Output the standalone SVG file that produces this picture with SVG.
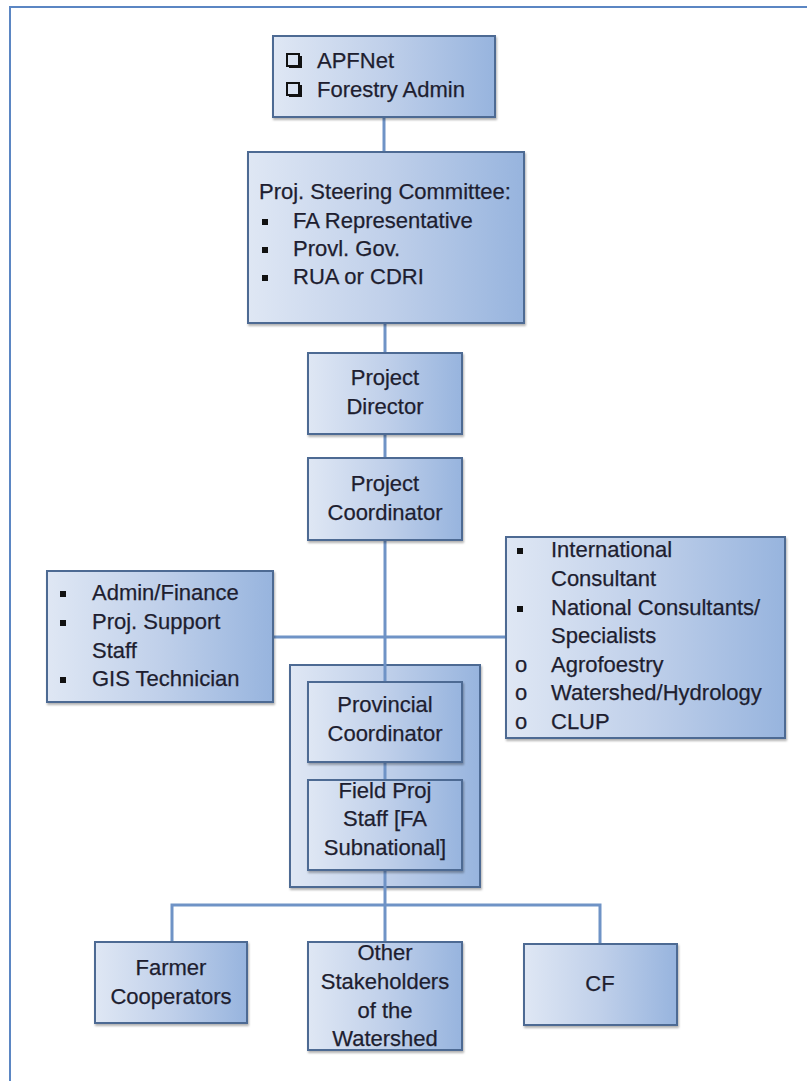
<svg xmlns="http://www.w3.org/2000/svg" width="807" height="1081" viewBox="0 0 807 1081">
<style>
.box{fill:url(#g);stroke:#4d6b93;stroke-width:2;filter:url(#sh)}
.t{font-family:"Liberation Sans",Arial,sans-serif;font-size:22px;fill:#1e1e30;stroke:#1e1e30;stroke-width:0.25}
.c{text-anchor:middle}
.ln{stroke:#6f93c6;stroke-width:3;fill:none}
.b{fill:#111}
.cb{fill:none;stroke:#111;stroke-width:2}
</style>
<defs>
<linearGradient id="g" x1="0" y1="0" x2="1" y2="0">
<stop offset="0" stop-color="#dfe7f4"/>
<stop offset="0.5" stop-color="#c0d0ea"/>
<stop offset="1" stop-color="#97b4de"/>
</linearGradient>
<filter id="sh" x="-5%" y="-5%" width="115%" height="120%">
<feDropShadow dx="1" dy="2" stdDeviation="1.2" flood-color="#000" flood-opacity="0.3"/>
</filter>
</defs>
<rect width="807" height="1081" fill="#fff"/>
<path d="M10 1081 V7 H807" fill="none" stroke="#5b86c3" stroke-width="2"/>

<g id="provincial-group"><rect class="box" x="290" y="665" width="190" height="222"/></g>

<g id="connectors">
<path class="ln" d="M384 117 V152"/>
<path class="ln" d="M385 323 V353"/>
<path class="ln" d="M385 434 V458"/>
<path class="ln" d="M385 540 V682"/>
<path class="ln" d="M273 637 H506"/>
<path class="ln" d="M385 762 V780"/>
<path class="ln" d="M385 870 V942"/>
<path class="ln" d="M172 942 V905 H600 V944"/>
</g>

<g id="apfnet">
<rect class="box" x="273" y="36" width="222" height="81"/>
<rect class="cb" x="287" y="54" width="12" height="12"/>
<rect class="b" x="289" y="65" width="12" height="3"/>
<rect class="b" x="299" y="56" width="3" height="12"/>
<rect class="cb" x="287" y="83" width="12" height="12"/>
<rect class="b" x="289" y="94" width="12" height="3"/>
<rect class="b" x="299" y="85" width="3" height="12"/>
<text class="t" x="317" y="68">APFNet</text>
<text class="t" x="317" y="97">Forestry Admin</text>
</g>

<g id="steering">
<rect class="box" x="248" y="152" width="276" height="171"/>
<text class="t" x="259" y="199">Proj. Steering Committee:</text>
<rect class="b" x="262" y="219" width="6" height="6"/>
<rect class="b" x="262" y="247" width="6" height="6"/>
<rect class="b" x="262" y="275" width="6" height="6"/>
<text class="t" x="293" y="228">FA Representative</text>
<text class="t" x="293" y="256">Provl. Gov.</text>
<text class="t" x="293" y="284">RUA or CDRI</text>
</g>

<g id="director">
<rect class="box" x="308" y="353" width="154" height="81"/>
<text class="t c" x="385" y="385">Project</text>
<text class="t c" x="385" y="414">Director</text>
</g>

<g id="coordinator">
<rect class="box" x="308" y="458" width="154" height="82"/>
<text class="t c" x="385" y="491">Project</text>
<text class="t c" x="385" y="520">Coordinator</text>
</g>

<g id="admin">
<rect class="box" x="47" y="571" width="226" height="131"/>
<rect class="b" x="60" y="591" width="6" height="6"/>
<rect class="b" x="60" y="620" width="6" height="6"/>
<rect class="b" x="60" y="677" width="6" height="6"/>
<text class="t" x="92" y="600">Admin/Finance</text>
<text class="t" x="92" y="629">Proj. Support</text>
<text class="t" x="92" y="658">Staff</text>
<text class="t" x="92" y="686">GIS Technician</text>
</g>

<g id="consultants">
<rect class="box" x="506" y="537" width="279" height="201"/>
<rect class="b" x="517" y="548" width="6" height="6"/>
<rect class="b" x="517" y="606" width="6" height="6"/>
<text class="t" x="515" y="672">o</text>
<text class="t" x="515" y="700">o</text>
<text class="t" x="515" y="729">o</text>
<text class="t" x="551" y="557">International</text>
<text class="t" x="551" y="586">Consultant</text>
<text class="t" x="551" y="615">National Consultants/</text>
<text class="t" x="551" y="643">Specialists</text>
<text class="t" x="551" y="672">Agrofoestry</text>
<text class="t" x="551" y="700">Watershed/Hydrology</text>
<text class="t" x="551" y="729">CLUP</text>
</g>

<g id="provincial-coordinator">
<rect class="box" x="308" y="682" width="154" height="80"/>
<text class="t c" x="385" y="712">Provincial</text>
<text class="t c" x="385" y="741">Coordinator</text>
</g>

<g id="field-staff">
<rect class="box" x="308" y="780" width="154" height="90"/>
<text class="t c" x="385" y="798">Field Proj</text>
<text class="t c" x="385" y="826">Staff [FA</text>
<text class="t c" x="385" y="855">Subnational]</text>
</g>

<g id="farmer">
<rect class="box" x="95" y="942" width="152" height="81"/>
<text class="t c" x="171" y="975">Farmer</text>
<text class="t c" x="171" y="1004">Cooperators</text>
</g>

<g id="stakeholders">
<rect class="box" x="308" y="942" width="154" height="108"/>
<text class="t c" x="385" y="960">Other</text>
<text class="t c" x="385" y="989">Stakeholders</text>
<text class="t c" x="385" y="1018">of the</text>
<text class="t c" x="385" y="1046">Watershed</text>
</g>

<g id="cf">
<rect class="box" x="524" y="944" width="153" height="81"/>
<text class="t c" x="600" y="991">CF</text>
</g>
</svg>
